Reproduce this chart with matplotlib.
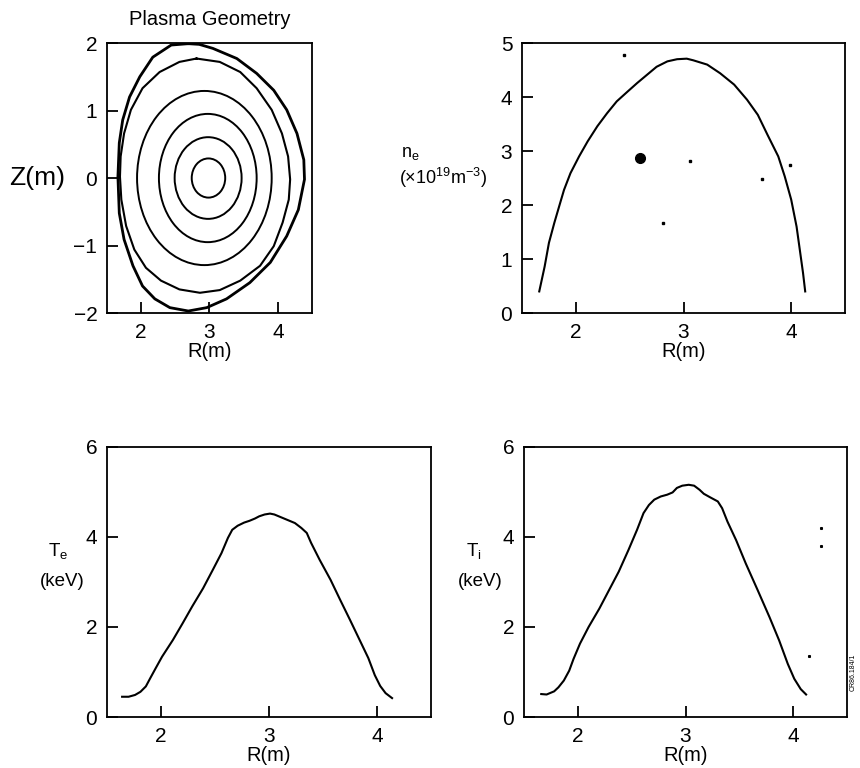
import matplotlib
matplotlib.use('Agg')
import matplotlib.pyplot as plt
from matplotlib.patches import Ellipse

plt.rcParams['font.family'] = ['Liberation Sans', 'DejaVu Sans']
plt.rcParams['mathtext.fontset'] = 'custom'
plt.rcParams['mathtext.rm'] = 'Liberation Sans'
plt.rcParams['axes.linewidth'] = 1.3
plt.rcParams['lines.solid_joinstyle'] = 'round'

# ---- flux surfaces (R, Z in m) ----
outer_R = [2.69, 2.85, 3.05, 3.40, 3.69, 3.94, 4.13, 4.28, 4.38, 4.39, 4.30, 4.13,
           3.89, 3.59, 3.25, 2.96, 2.69, 2.42, 2.20, 2.02, 1.88, 1.75, 1.68, 1.66,
           1.68, 1.73, 1.83, 1.98, 2.17, 2.44, 2.69]
outer_Z = [1.99, 1.98, 1.92, 1.77, 1.55, 1.30, 1.01, 0.66, 0.27, -0.02, -0.47, -0.86,
           -1.25, -1.55, -1.79, -1.92, -1.97, -1.92, -1.79, -1.60, -1.30, -0.91, -0.52, 0.02,
           0.52, 0.86, 1.20, 1.50, 1.79, 1.97, 1.99]

second_R = [2.81, 3.15, 3.45, 3.69, 3.91, 4.06, 4.15, 4.18, 4.16, 4.07, 3.94, 3.74,
            3.45, 3.15, 2.86, 2.56, 2.29, 2.07, 1.90, 1.78, 1.71, 1.69, 1.70, 1.75,
            1.85, 2.02, 2.27, 2.56, 2.81]
second_Z = [1.77, 1.72, 1.57, 1.33, 1.01, 0.66, 0.32, -0.02, -0.32, -0.66, -1.01, -1.30,
            -1.52, -1.66, -1.70, -1.65, -1.52, -1.33, -1.06, -0.71, -0.32, 0.02, 0.32, 0.66,
            1.01, 1.33, 1.57, 1.72, 1.77]

# inner surfaces: centre R, full width, full height
inner_R0 = [2.925, 2.975, 2.98, 2.985]
inner_w = [1.97, 1.43, 0.98, 0.49]
inner_h = [2.58, 1.90, 1.21, 0.58]

# ---- density profile ----
ne_R = [1.66, 1.71, 1.75, 1.80, 1.85, 1.89, 1.95, 2.03, 2.11, 2.20, 2.29, 2.38,
        2.48, 2.57, 2.66, 2.75, 2.85, 2.94, 3.03, 3.09, 3.22, 3.34, 3.47, 3.59,
        3.69, 3.78, 3.88, 3.94, 4.00, 4.05, 4.08, 4.11, 4.13]
ne_val = [0.40, 0.86, 1.30, 1.67, 2.01, 2.28, 2.59, 2.90, 3.18, 3.46, 3.70, 3.92,
          4.10, 4.26, 4.41, 4.56, 4.66, 4.70, 4.71, 4.68, 4.60, 4.44, 4.23, 3.95,
          3.67, 3.30, 2.90, 2.53, 2.10, 1.60, 1.17, 0.74, 0.40]
ne_spots_R = [3.06, 2.81, 3.73, 2.45, 3.99]
ne_spots_n = [2.82, 1.66, 2.48, 4.78, 2.74]
ne_blob = (2.60, 2.88)

# ---- electron temperature ----
te_R = [1.64, 1.70, 1.76, 1.81, 1.86, 1.90, 1.95, 2.01, 2.11, 2.20, 2.29, 2.39,
        2.48, 2.56, 2.62, 2.66, 2.71, 2.77, 2.82, 2.87, 2.91, 2.96, 3.01, 3.05,
        3.11, 3.18, 3.24, 3.30, 3.35, 3.39, 3.47, 3.57, 3.66, 3.75, 3.84, 3.92,
        3.98, 4.03, 4.08, 4.14]
te_val = [0.45, 0.45, 0.49, 0.56, 0.68, 0.86, 1.08, 1.34, 1.71, 2.08, 2.46, 2.86,
          3.27, 3.64, 3.98, 4.16, 4.25, 4.32, 4.36, 4.41, 4.46, 4.50, 4.52, 4.50,
          4.44, 4.37, 4.31, 4.20, 4.09, 3.87, 3.49, 3.05, 2.60, 2.16, 1.71, 1.31,
          0.93, 0.69, 0.53, 0.42]

# ---- ion temperature ----
ti_R = [1.66, 1.71, 1.78, 1.82, 1.87, 1.92, 1.96, 2.02, 2.10, 2.20, 2.29, 2.38,
        2.47, 2.55, 2.61, 2.66, 2.71, 2.77, 2.83, 2.88, 2.92, 2.97, 3.03, 3.08,
        3.13, 3.17, 3.23, 3.30, 3.34, 3.39, 3.47, 3.56, 3.67, 3.78, 3.87, 3.95,
        4.01, 4.07, 4.12]
ti_val = [0.51, 0.50, 0.57, 0.66, 0.81, 1.03, 1.29, 1.63, 2.00, 2.41, 2.82, 3.23,
          3.71, 4.16, 4.53, 4.71, 4.83, 4.90, 4.94, 4.99, 5.09, 5.14, 5.16, 5.14,
          5.05, 4.96, 4.88, 4.79, 4.64, 4.34, 3.93, 3.41, 2.82, 2.22, 1.70, 1.18,
          0.85, 0.62, 0.50]
ti_spots_R = [4.26, 4.26, 4.15]
ti_spots_T = [4.19, 3.81, 1.35]

r_ticks = [2, 3, 4]
z_ticks = [-2, -1, 0, 1, 2]
ne_ticks = [0, 1, 2, 3, 4, 5]
t_ticks = [0, 2, 4, 6]

LABEL = 14.5
TICK = 15


def style(ax, yticks):
    ax.set_xlim(1.5, 4.5)
    ax.set_xticks(r_ticks)
    ax.set_yticks(yticks)
    ax.tick_params(direction='in', length=8, width=1.3, labelsize=TICK, pad=7,
                   top=False, right=False)
    ax.set_xlabel('R(m)', fontsize=LABEL, labelpad=0)


fig = plt.figure(figsize=(8.6, 7.68), dpi=100)

# plasma geometry
ax1 = fig.add_axes([0.1244, 0.5924, 0.2384, 0.3516])
ax1.plot(outer_R, outer_Z, color='black', lw=2.0)
ax1.plot(second_R, second_Z, color='black', lw=1.5)
for r0, w, h in zip(inner_R0, inner_w, inner_h):
    ax1.add_patch(Ellipse((r0, 0), w, h, fill=False, color='black', lw=1.4))
style(ax1, z_ticks)
ax1.set_ylim(-2, 2)
ax1.set_title('Plasma Geometry', fontsize=14.5, pad=13)
fig.text(0.043, 0.768, 'Z(m)', fontsize=19, ha='center', va='center')

# density
ax2 = fig.add_axes([0.607, 0.5924, 0.3756, 0.3516])
ax2.plot(ne_R, ne_val, color='black', lw=1.5)
ax2.plot(ne_spots_R, ne_spots_n, 's', color='black', ms=1.5)
ax2.plot(*ne_blob, 'o', color='black', ms=7)
style(ax2, ne_ticks)
ax2.set_ylim(0, 5)
fig.text(0.477, 0.800, r'$\mathregular{n_e}$', fontsize=13, ha='center', va='center')
fig.text(0.515, 0.768, r'(×10$^{\mathregular{19}}$m$^{\mathregular{-3}}$)', fontsize=13,
         ha='center', va='center')

# electron temperature
ax3 = fig.add_axes([0.1244, 0.0664, 0.3767, 0.3516])
ax3.plot(te_R, te_val, color='black', lw=1.5)
style(ax3, t_ticks)
ax3.set_ylim(0, 6)
fig.text(0.068, 0.283, r'$\mathregular{T_e}$', fontsize=13.5, ha='center', va='center')
fig.text(0.072, 0.243, '(keV)', fontsize=13.5, ha='center', va='center')

# ion temperature
ax4 = fig.add_axes([0.6093, 0.0664, 0.3756, 0.3516])
ax4.plot(ti_R, ti_val, color='black', lw=1.5)
ax4.plot(ti_spots_R, ti_spots_T, 's', color='black', ms=1.2)
style(ax4, t_ticks)
ax4.set_ylim(0, 6)
fig.text(0.551, 0.283, r'$\mathregular{T_i}$', fontsize=13.5, ha='center', va='center')
fig.text(0.558, 0.243, '(keV)', fontsize=13.5, ha='center', va='center')

fig.text(0.992, 0.125, 'CR86.184/1', fontsize=5, rotation=90, ha='center', va='center')

fig.savefig('out.png', dpi=100, facecolor='white')
